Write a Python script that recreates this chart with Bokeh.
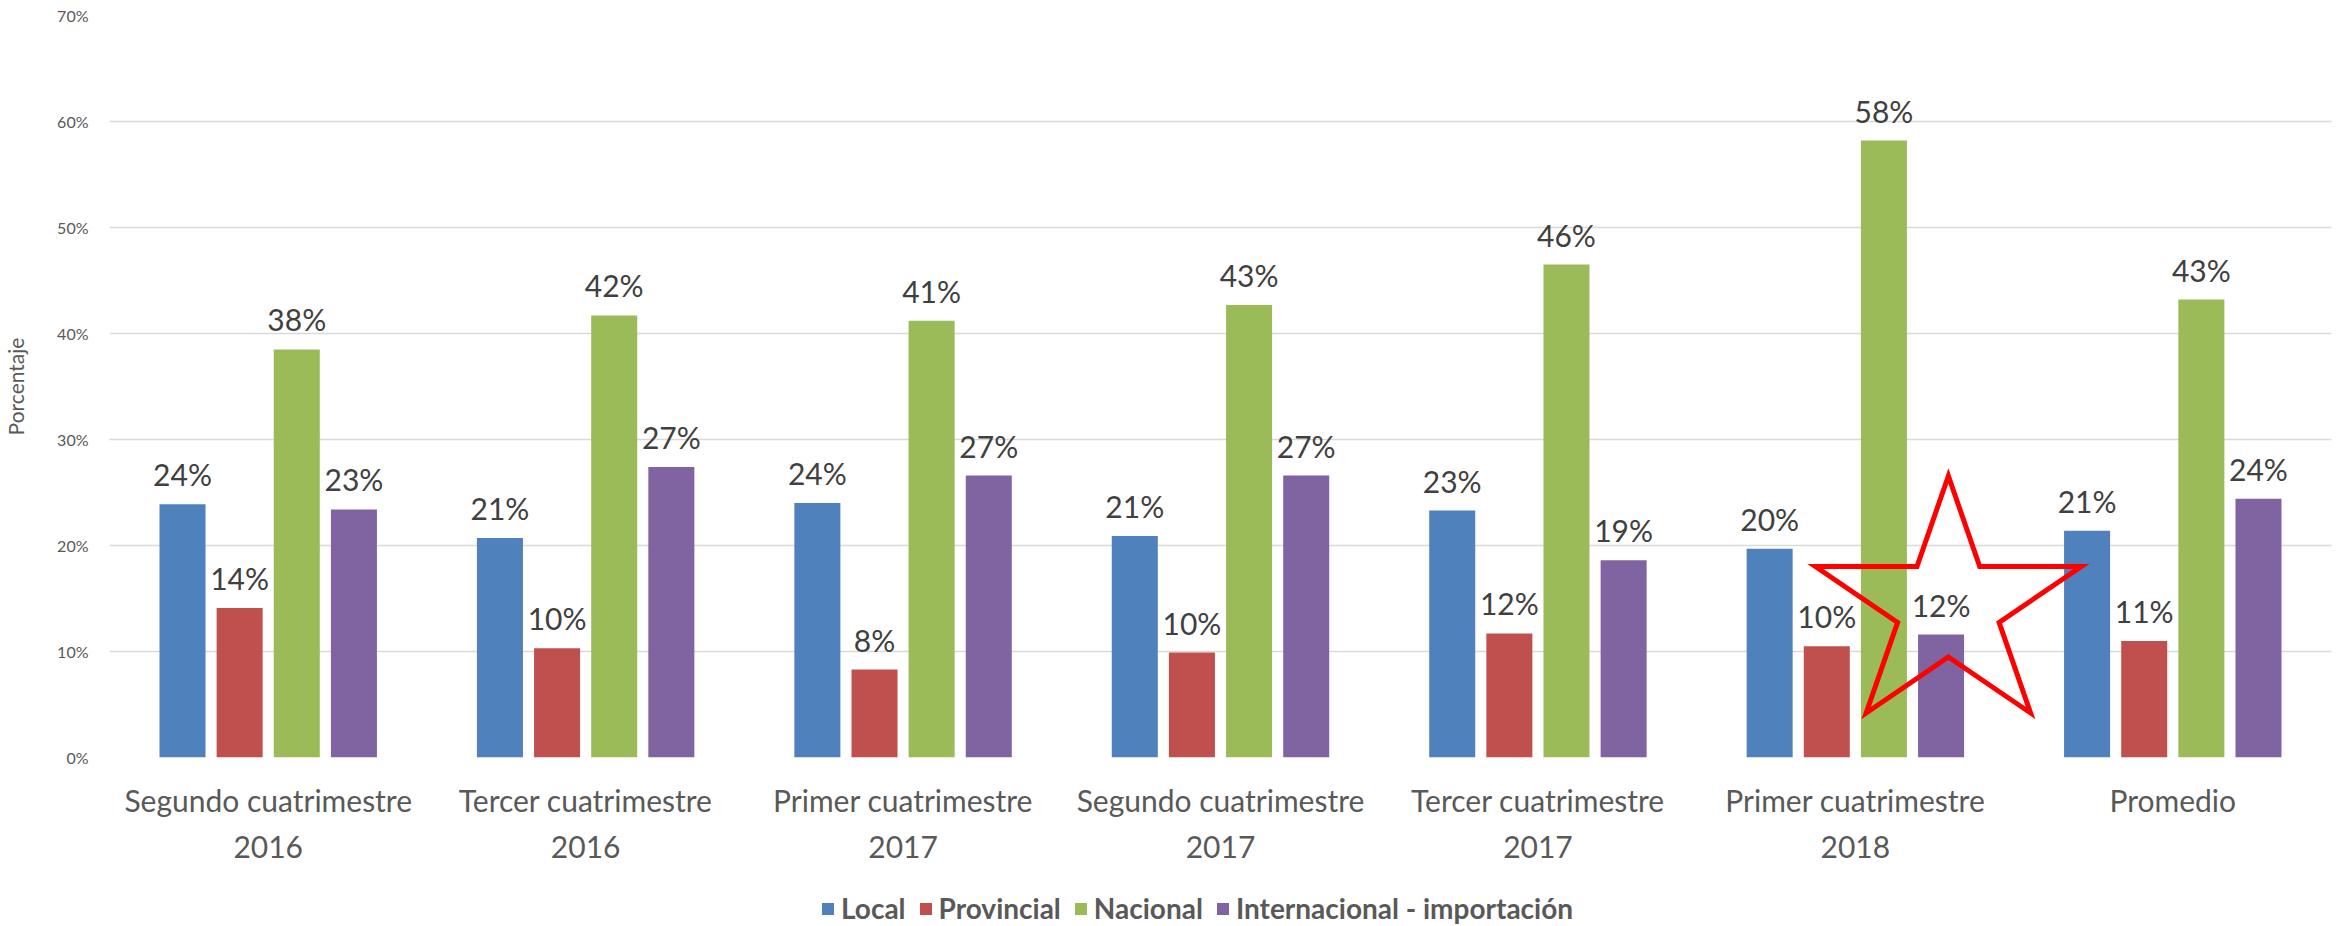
import math
from bokeh.plotting import figure
from bokeh.layouts import column
from bokeh.models import (ColumnDataSource, FactorRange, Range1d, NumeralTickFormatter,
                          Legend, LegendItem)
from bokeh.transform import dodge
from bokeh.core.properties import value
from bokeh.embed import file_html
from bokeh.resources import INLINE

# ---- data ----
categories = [
    "Segundo cuatrimestre\n2016",
    "Tercer cuatrimestre\n2016",
    "Primer cuatrimestre\n2017",
    "Segundo cuatrimestre\n2017",
    "Tercer cuatrimestre\n2017",
    "Primer cuatrimestre\n2018",
    "Promedio",
]
local = [0.239, 0.207, 0.240, 0.209, 0.233, 0.197, 0.214]
provincial = [0.141, 0.103, 0.083, 0.099, 0.117, 0.105, 0.110]
nacional = [0.385, 0.417, 0.412, 0.427, 0.465, 0.582, 0.432]
internacional = [0.234, 0.274, 0.266, 0.266, 0.186, 0.116, 0.244]
series_names = ["Local", "Provincial", "Nacional", "Internacional - importación"]
colors = ["#4F81BD", "#C0504D", "#9BBB59", "#8064A2"]

# highlight annotation (star) on the 2018 group
star_category = "Primer cuatrimestre\n2018"
star_offset = 0.293
star_level = 0.142

FONT = "Lato"
TXT = "#595959"
W = 2341
H_MAIN = 886
H_LEG = 40
B_LEFT, B_RIGHT, B_TOP, B_BOTTOM = 103, 10, 15, H_MAIN - 757

def pct(v):
    return f"{round(v * 100)}%"

src = ColumnDataSource(dict(
    cat=categories,
    local=local, provincial=provincial, nacional=nacional, internacional=internacional,
    local_l=[pct(v) for v in local],
    provincial_l=[pct(v) for v in provincial],
    nacional_l=[pct(v) for v in nacional],
    internacional_l=[pct(v) for v in internacional],
))

p = figure(width=W, height=H_MAIN, x_range=FactorRange(*categories, range_padding=0),
           y_range=Range1d(0, 0.70), output_backend="svg", toolbar_location=None,
           min_border_left=B_LEFT, min_border_right=B_RIGHT, min_border_top=B_TOP,
           min_border_bottom=B_BOTTOM)
p.outline_line_color = None

keys = ["local", "provincial", "nacional", "internacional"]
offsets = [-0.27, -0.09, 0.09, 0.27]
bar_w = 0.145
for k, off, c in zip(keys, offsets, colors):
    p.vbar(x=dodge("cat", off, range=p.x_range), top=k, width=bar_w, source=src,
           fill_color=c, line_color=None)
    p.text(x=dodge("cat", off, range=p.x_range), y=k, text=k + "_l", source=src,
           text_align="center", text_baseline="alphabetic", y_offset=-30,
           text_font=value(FONT), text_font_size="30px", text_color="#404040")

# star annotation: polygon outline around the 2018 "Internacional" bar
px_per_cat = (W - B_LEFT - B_RIGHT) / len(categories)
px_per_unit = (H_MAIN - B_TOP - B_BOTTOM) / 0.70
R_out, R_in, sx = 131.0, 50.0, 1.07
sxs, sys_ = [], []
for i in range(10):
    ang = math.radians(90 + 36 * i)
    r = R_out if i % 2 == 0 else R_in
    sxs.append((star_category, star_offset + sx * r * math.cos(ang) / px_per_cat))
    sys_.append(star_level + r * math.sin(ang) / px_per_unit)
p.patch(x=sxs, y=sys_, fill_alpha=0, line_color="#FF0000", line_width=5, line_join="miter")

# axes
p.yaxis.formatter = NumeralTickFormatter(format="0%")
p.yaxis.ticker = [0, 0.1, 0.2, 0.3, 0.4, 0.5, 0.6, 0.7]
p.yaxis.axis_label = "Porcentaje"
p.yaxis.axis_label_text_font = FONT
p.yaxis.axis_label_text_font_style = "normal"
p.yaxis.axis_label_text_font_size = "21px"
p.yaxis.axis_label_text_color = TXT
p.yaxis.axis_label_standoff = 26
p.yaxis.major_label_text_font = FONT
p.yaxis.major_label_text_font_size = "16px"
p.yaxis.major_label_text_color = TXT
p.yaxis.major_label_standoff = 15
for ax in (p.xaxis, p.yaxis):
    ax.axis_line_color = None
    ax.major_tick_line_color = None
    ax.minor_tick_line_color = None
p.xaxis.major_label_text_font = FONT
p.xaxis.major_label_text_font_size = "30px"
p.xaxis.major_label_text_color = TXT
p.xaxis.major_label_text_line_height = 1.28
p.xaxis.major_label_standoff = 18

p.xgrid.grid_line_color = None
p.ygrid.grid_line_color = "#D9D9D9"
p.ygrid.grid_line_width = 1.5

# legend strip below the chart
lf = figure(width=W, height=H_LEG, x_range=Range1d(0, 1), y_range=Range1d(0, 1),
            x_axis_type=None, y_axis_type=None, output_backend="svg", toolbar_location=None,
            min_border=0)
lf.outline_line_color = None
lf.xgrid.grid_line_color = None
lf.ygrid.grid_line_color = None
dummy = []
for c in colors:
    dummy.append(lf.vbar(x=[-5], top=[0], width=0.1, fill_color=c, line_color=None))
legend = Legend(items=[LegendItem(label=n, renderers=[r]) for n, r in zip(series_names, dummy)],
                orientation="horizontal", location=(711, 1))
legend.label_text_font = FONT
legend.label_text_font_style = "bold"
legend.label_text_font_size = "28px"
legend.label_text_color = TXT
legend.glyph_width = 15
legend.glyph_height = 15
legend.label_standoff = 6
legend.spacing = 12
legend.padding = 0
legend.margin = 0
legend.border_line_color = None
legend.background_fill_alpha = 0
lf.add_layout(legend, "center")

layout = column(p, lf, spacing=0)
open("out.html", "w").write(file_html(layout, INLINE))
